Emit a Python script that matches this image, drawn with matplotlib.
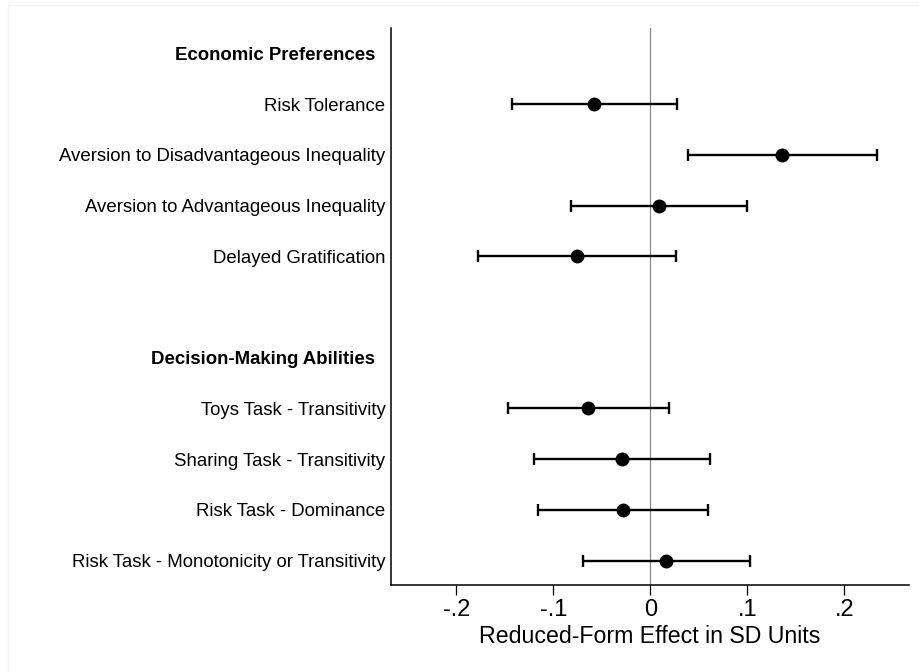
import matplotlib.pyplot as plt
from matplotlib.patches import Rectangle

plt.rcParams['font.family'] = ['Liberation Sans', 'DejaVu Sans']

# rows top to bottom; None marks a header or spacer row
labels = ['Economic Preferences  ', 'Risk Tolerance', 'Aversion to Disadvantageous Inequality',
          'Aversion to Advantageous Inequality', 'Delayed Gratification', '',
          'Decision-Making Abilities  ', 'Toys Task - Transitivity', 'Sharing Task - Transitivity',
          'Risk Task - Dominance', 'Risk Task - Monotonicity or Transitivity']
headers = [0, 6]
est = [None, -0.058, 0.136, 0.0087, -0.0753, None, None, -0.0639, -0.0289, -0.0281, 0.0165]
lo = [None, -0.1429, 0.0386, -0.0821, -0.1773, None, None, -0.147, -0.1196, -0.1161, -0.0691]
hi = [None, 0.0278, 0.2336, 0.100, 0.0268, None, None, 0.0193, 0.0619, 0.0598, 0.1028]

xticks = [-0.2, -0.1, 0, 0.1, 0.2]
xticklabels = ['-.2', '-.1', '0', '.1', '.2']

fig = plt.figure(figsize=(9.19, 6.72), dpi=100)
fig.patches.append(Rectangle((8 / 919, -0.1), 1.2, 1 - 5 / 672 + 0.1, transform=fig.transFigure,
                             fill=False, edgecolor='#edf2f2', linewidth=1.0))
ax = fig.add_axes([391 / 919, 1 - 585 / 672, (909 - 391) / 919, (585 - 28) / 672])

ax.axvline(0, color='#8a8a8a', linewidth=0.9, zorder=1)

for i, (e, l, h) in enumerate(zip(est, lo, hi)):
    if e is None:
        continue
    ax.errorbar(e, i, xerr=[[e - l], [h - e]], fmt='o', color='black', ecolor='black',
                markersize=9, elinewidth=1.7, capsize=4.5, capthick=1.7, zorder=3)

ax.set_ylim(10.48, -0.5)
ax.set_xlim(-0.2673, 0.2667)
ax.set_yticks(range(len(labels)))
ax.set_yticklabels(labels, fontsize=13.4)
for i in headers:
    ax.get_yticklabels()[i].set_fontweight('bold')
ax.tick_params(axis='y', length=0, pad=4)
ax.set_xticks(xticks)
ax.set_xticklabels(xticklabels, fontsize=17)
ax.tick_params(axis='x', length=7, width=0.9, pad=3, direction='out')
ax.set_xlabel('Reduced-Form Effect in SD Units', fontsize=16.7, labelpad=3)

for s in ['top', 'right']:
    ax.spines[s].set_visible(False)
for s in ['left', 'bottom']:
    ax.spines[s].set_linewidth(1.1)

fig.savefig('out.png', dpi=100)
